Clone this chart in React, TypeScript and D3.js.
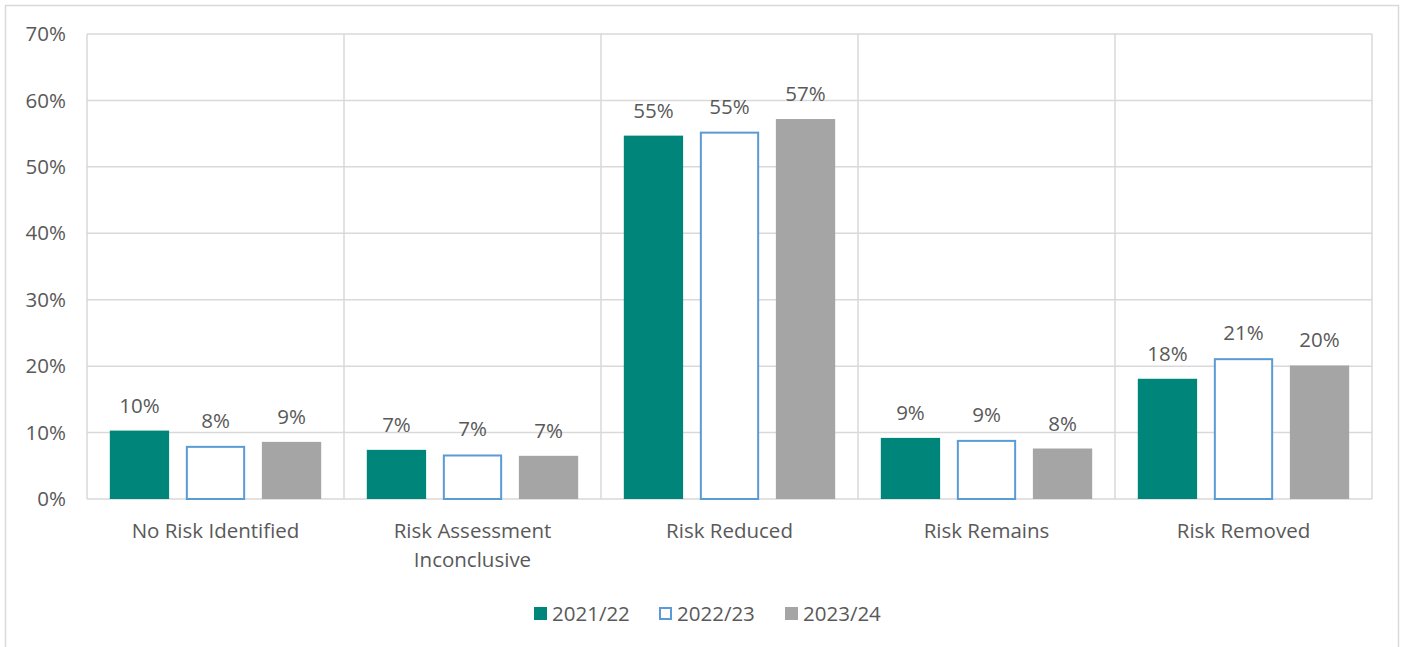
import React, { useRef, useEffect } from 'react';
import * as d3 from 'd3';

const categories = [
  ['No Risk Identified'],
  ['Risk Assessment', 'Inconclusive'],
  ['Risk Reduced'],
  ['Risk Remains'],
  ['Risk Removed']
];
const seriesNames = ['2021/22', '2022/23', '2023/24'];
const values2122 = [10.3, 7.4, 54.7, 9.2, 18.1];
const values2223 = [8.0, 6.7, 55.3, 8.9, 21.2];
const values2324 = [8.6, 6.5, 57.2, 7.6, 20.1];
const labels2122 = ['10%', '7%', '55%', '9%', '18%'];
const labels2223 = ['8%', '7%', '55%', '9%', '21%'];
const labels2324 = ['9%', '7%', '57%', '8%', '20%'];
const yTicks = [0, 10, 20, 30, 40, 50, 60, 70];

export default function App(): JSX.Element {
  const svgRef = useRef<SVGSVGElement>(null);
  useEffect(() => {
    const svgEle = svgRef.current;
    if (svgEle == null) return;
    const svg = d3.select(svgEle);
    svg.selectAll('*').remove();

    const font = 'Open Sans, Noto Sans, sans-serif';
    const fontSize = '20.5px';
    const textColor = '#595959';
    const gridColor = '#d9d9d9';
    const plot = { left: 87, top: 34, right: 1372, bottom: 499 };

    // outer border
    svg
      .append('rect')
      .attr('x', 5.5)
      .attr('y', 5.5)
      .attr('width', 1393)
      .attr('height', 660)
      .attr('fill', '#fff')
      .attr('stroke', gridColor)
      .attr('stroke-width', 1.5);

    const names = categories.map((c) => c.join(' '));
    const x = d3.scaleBand().domain(names).range([plot.left, plot.right]);
    const xInner = d3
      .scaleBand()
      .domain(seriesNames)
      .range([0, x.bandwidth()])
      .paddingInner(0.22)
      .paddingOuter(0.3);
    const y = d3.scaleLinear().domain([0, 70]).range([plot.bottom, plot.top]);

    // horizontal grid
    svg
      .selectAll()
      .data(yTicks)
      .join('line')
      .attr('x1', plot.left)
      .attr('x2', plot.right)
      .attr('y1', (d) => y(d))
      .attr('y2', (d) => y(d))
      .attr('stroke', gridColor)
      .attr('stroke-width', 1.5);

    // vertical grid lines between categories
    const vLines = names.map((n) => x(n) as number).concat([plot.right]);
    svg
      .selectAll()
      .data(vLines)
      .join('line')
      .attr('x1', (d) => d)
      .attr('x2', (d) => d)
      .attr('y1', plot.top)
      .attr('y2', plot.bottom)
      .attr('stroke', gridColor)
      .attr('stroke-width', 1.5);

    // y tick labels
    svg
      .selectAll()
      .data(yTicks)
      .join('text')
      .attr('x', 66)
      .attr('y', (d) => y(d))
      .attr('dy', '0.35em')
      .attr('text-anchor', 'end')
      .style('font-family', font)
      .style('font-size', fontSize)
      .attr('fill', textColor)
      .text((d) => `${d}%`);

    const series = [
      { name: seriesNames[0], values: values2122, labels: labels2122, fill: '#00857a', stroke: 'none' },
      { name: seriesNames[1], values: values2223, labels: labels2223, fill: '#fff', stroke: '#5b9bd5' },
      { name: seriesNames[2], values: values2324, labels: labels2324, fill: '#a5a5a5', stroke: 'none' }
    ];

    series.forEach((s) => {
      const bx = (i: number) => (x(names[i]) as number) + (xInner(s.name) as number);
      const sw = s.stroke === 'none' ? 0 : 2;
      svg
        .selectAll()
        .data(s.values)
        .join('rect')
        .attr('x', (d, i) => bx(i) + sw / 2)
        .attr('y', (d) => y(d) + sw / 2)
        .attr('width', xInner.bandwidth() - sw)
        .attr('height', (d) => y(0) - y(d) - sw / 2)
        .attr('fill', s.fill)
        .attr('stroke', s.stroke)
        .attr('stroke-width', sw);
      svg
        .selectAll()
        .data(s.values)
        .join('text')
        .attr('x', (d, i) => bx(i) + xInner.bandwidth() / 2)
        .attr('y', (d) => y(d) - 18)
        .attr('text-anchor', 'middle')
        .style('font-family', font)
        .style('font-size', fontSize)
        .attr('fill', textColor)
        .text((d, i) => s.labels[i]);
    });

    // category labels
    categories.forEach((lines, i) => {
      const cx = (x(names[i]) as number) + x.bandwidth() / 2;
      svg
        .append('text')
        .attr('x', cx)
        .attr('text-anchor', 'middle')
        .style('font-family', font)
        .style('font-size', fontSize)
        .attr('fill', textColor)
        .selectAll('tspan')
        .data(lines)
        .join('tspan')
        .attr('x', cx)
        .attr('y', (d, j) => 538 + j * 29)
        .text((d) => d);
    });

    // legend
    const legendX = [534, 659, 785];
    series.forEach((s, i) => {
      const g = svg.append('g').attr('transform', `translate(${legendX[i]},607)`);
      const sw = s.stroke === 'none' ? 0 : 2;
      g.append('rect')
        .attr('x', sw / 2)
        .attr('y', sw / 2)
        .attr('width', 13 - sw)
        .attr('height', 13 - sw)
        .attr('fill', s.fill)
        .attr('stroke', s.stroke)
        .attr('stroke-width', sw);
      g.append('text')
        .attr('x', 18)
        .attr('y', 6.5)
        .attr('dy', '0.35em')
        .style('font-family', font)
        .style('font-size', fontSize)
        .attr('fill', textColor)
        .text(s.name);
    });
  }, []);
  return (
    <svg
      ref={svgRef}
      width={1405}
      height={647}
      style={{ position: 'absolute', left: 0, top: 0, background: '#fff' }}
    />
  );
}
